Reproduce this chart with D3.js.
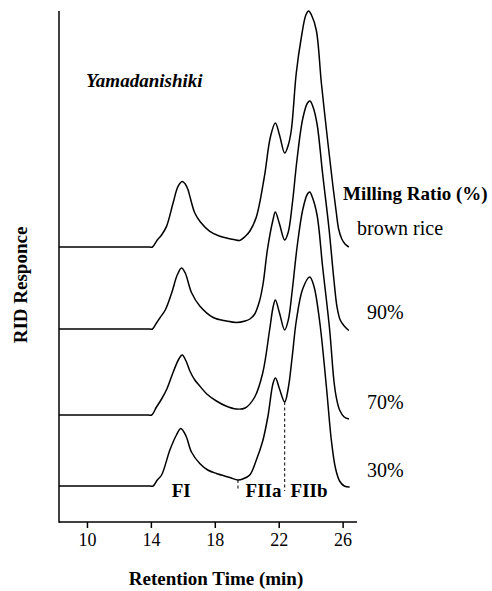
<!DOCTYPE html>
<html>
<head>
<meta charset="utf-8">
<script src="https://cdn.jsdelivr.net/npm/d3@7"></script>
<style>
  body { margin: 0; background: #fff; }
  svg { display: block; }
  text { font-family: "Liberation Serif", "Times New Roman", serif; fill: #000; }
</style>
</head>
<body>
<div class="chart"></div>
<script>
// retention time (min) / RID response
const samples = ['brown rice', '90%', '70%', '30%']
const offsets = [275, 193, 107, 36]   // vertical stacking of each trace

const brownRice = [[8.25,0],[13.9,0],[14.1,0],[14.4,7],[14.67,12],[14.98,20.6],[15.39,44],[15.7,60.6],[15.96,65.5],[16.15,63],[16.33,57],[16.44,50.6],[16.75,34],[17.1,25],[17.69,15.6],[18.2,11.5],[18.73,9],[19.2,7.5],[19.56,6.6],[19.9,10.5],[20.2,16],[20.6,30],[21.1,70],[21.48,110],[21.79,124],[22.05,112],[22.375,94],[22.6,102],[22.79,117],[23.1,174],[23.42,210],[23.7,232],[23.875,236],[24.05,232],[24.35,217],[24.67,164],[25.08,104],[25.4,60],[25.6,35],[25.75,18],[25.95,8],[26.15,3],[26.39,0]]
const r90 = [[8.25,0],[13.9,0],[14.1,0],[14.35,6],[14.56,11],[14.9,19],[15.3,36],[15.65,54],[15.92,61],[16.15,56],[16.54,36.5],[17.06,23],[17.9,11.5],[18.73,8],[19.35,6.5],[19.9,8],[20.2,10],[20.5,15],[20.8,28],[21.02,45],[21.3,80],[21.64,109],[21.79,117],[22.05,105],[22.375,89],[22.6,97],[22.85,125],[23.15,170],[23.5,210],[23.8,226],[23.96,228],[24.15,222],[24.4,205],[24.75,155],[25.15,100],[25.45,50],[25.65,22],[25.85,9],[26.1,3],[26.39,-1.5]]
const r70 = [[8.25,0],[13.85,0],[14.05,0],[14.35,8],[14.67,16],[15.0,26],[15.4,43],[15.75,56],[15.96,60],[16.2,54],[16.44,44],[16.75,35],[17.06,29],[17.5,21],[18.1,14],[18.7,9],[19.35,6],[19.9,7],[20.5,18],[21.0,42],[21.43,85],[21.65,108],[21.79,115],[22.05,102],[22.375,85],[22.6,95],[22.85,125],[23.15,168],[23.5,205],[23.8,221],[23.94,223],[24.1,218],[24.4,200],[24.75,148],[25.19,85],[25.45,35],[25.6,18],[25.81,5],[26.1,-2],[26.4,-4]]
const r30 = [[8.25,0],[13.95,0],[14.14,0],[14.4,6],[14.67,11],[15.19,36],[15.6,51],[15.875,57.5],[16.2,50],[16.54,34],[17.06,22.5],[17.56,16],[18.1,12.5],[18.94,8.5],[19.45,6],[19.75,7],[20.19,11],[20.6,26],[21.0,45],[21.33,70],[21.65,103],[21.8,108],[22.05,97],[22.375,84],[22.6,98],[22.85,130],[23.1,165],[23.5,197],[23.94,209],[24.2,200],[24.56,165],[24.98,100],[25.3,45],[25.55,18],[25.81,5],[26.1,0],[26.44,-1]]
const traces = [brownRice, r90, r70, r30]

const xTicks = [10, 14, 18, 22, 26]
const fractions = ['FI', 'FIIa', 'FIIb']
const fractionTimes = [15.9, 21.05, 23.9]
const cutTimes = [19.45, 22.375]   // dashed fraction boundaries on the 30% trace

const width = 492, height = 591

const svg = d3.select('.chart').append('svg')
  .attr('width', width)
  .attr('height', height)

const x = d3.scaleLinear().domain([8.25, 26.9]).range([59, 357])
const y = d3.scaleLinear().domain([0, 511]).range([522, 11])

const line = d3.line()
  .x(d => x(d[0]))
  .y(d => y(d[1]))
  .curve(d3.curveCatmullRom.alpha(0.5))

// traces
svg.selectAll('.trace')
  .data(traces)
  .join('path')
  .attr('class', 'trace')
  .attr('d', (d, i) => line(d.map(p => [p[0], p[1] + offsets[i]])))
  .attr('fill', 'none')
  .attr('stroke', '#000')
  .attr('stroke-width', 1.5)
  .attr('stroke-linejoin', 'round')

// dashed cuts
const last = traces.length - 1
svg.selectAll('.cut')
  .data(cutTimes)
  .join('line')
  .attr('class', 'cut')
  .attr('x1', d => x(d))
  .attr('x2', d => x(d))
  .attr('y1', d => y(traces[last].find(p => p[0] == d)[1] + offsets[last]))
  .attr('y2', y(offsets[last] - 5))
  .attr('stroke', '#000')
  .attr('stroke-width', 1)
  .attr('stroke-dasharray', '3,2.5')

// axes
const xAxis = svg.append('g')
  .attr('transform', 'translate(0,522)')
  .call(d3.axisBottom(x).tickValues(xTicks).tickSize(6).tickPadding(5).tickFormat(d3.format('d')))
xAxis.select('.domain').attr('d', 'M59,0H357').attr('stroke-width', 1.5)
xAxis.selectAll('.tick line').attr('stroke-width', 1.5)
xAxis.selectAll('.tick text')
  .attr('font-size', 18)
  .attr('font-family', '"Liberation Serif", "Times New Roman", serif')

svg.append('line')
  .attr('x1', 59).attr('x2', 59)
  .attr('y1', 11).attr('y2', 522.75)
  .attr('stroke', '#000')
  .attr('stroke-width', 1.5)

// titles
svg.append('text')
  .attr('x', 216).attr('y', 585)
  .attr('text-anchor', 'middle')
  .attr('font-size', 19).attr('font-weight', 'bold')
  .text('Retention Time (min)')

svg.append('text')
  .attr('transform', 'translate(27,285) rotate(-90)')
  .attr('text-anchor', 'middle')
  .attr('font-size', 19).attr('font-weight', 'bold')
  .text('RID Responce')

svg.append('text')
  .attr('x', 86).attr('y', 87)
  .attr('font-size', 19).attr('font-weight', 'bold').attr('font-style', 'italic')
  .text('Yamadanishiki')

svg.append('text')
  .attr('x', 343).attr('y', 200)
  .attr('font-size', 19).attr('font-weight', 'bold')
  .text('Milling Ratio (%)')

// sample labels
const labelX = [357, 367, 367, 367]
const labelDy = [-12, -10, -6, -9]
svg.selectAll('.sample')
  .data(samples)
  .join('text')
  .attr('class', 'sample')
  .attr('x', (d, i) => labelX[i])
  .attr('y', (d, i) => y(offsets[i]) + labelDy[i])
  .attr('font-size', 20)
  .text(d => d)

// fraction labels
svg.selectAll('.frac')
  .data(fractions)
  .join('text')
  .attr('class', 'frac')
  .attr('x', (d, i) => x(fractionTimes[i]))
  .attr('y', 497)
  .attr('text-anchor', 'middle')
  .attr('font-size', 19).attr('font-weight', 'bold')
  .text(d => d)
</script>
</body>
</html>
